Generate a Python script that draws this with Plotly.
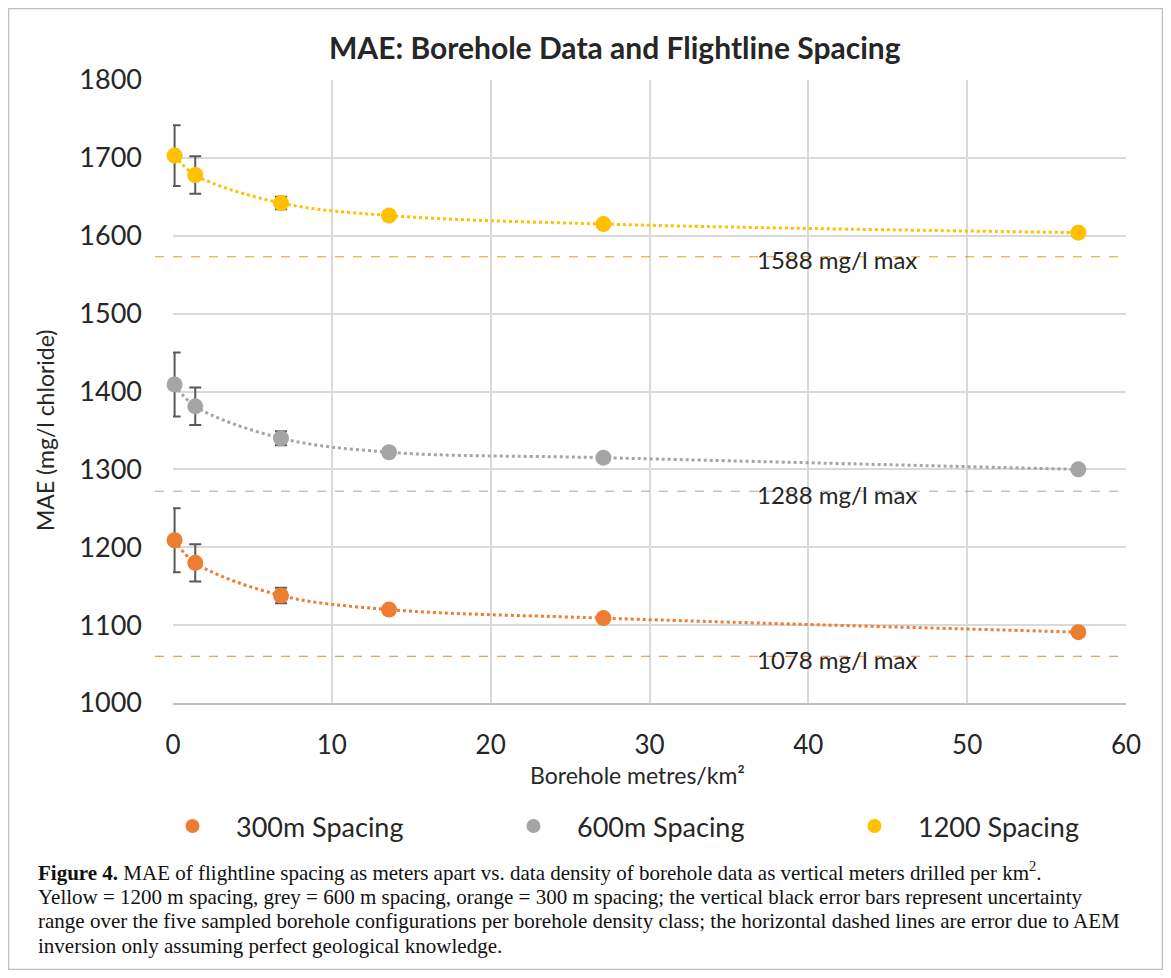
import plotly.graph_objects as go

# borehole metres per km2
density = [0.1, 1.4, 6.8, 13.6, 27.1, 57.0]

mae_300 = [1209, 1180, 1138, 1120, 1109, 1091]
mae_600 = [1409, 1381, 1340, 1322, 1315, 1300]
mae_1200 = [1703, 1678, 1642, 1626, 1615, 1604]

err_300 = [41, 24, 10, 0, 0, 0]
err_600 = [41, 24, 9, 0, 0, 0]
err_1200 = [39, 24, 8, 0, 0, 0]

series_names = ["300m Spacing", "600m Spacing", "1200 Spacing"]

# AEM inversion-only error lines (where they are drawn) and their labels
inv_line_y = [1060, 1272, 1573]
inv_labels = ["1078 mg/l max", "1288 mg/l max", "1588 mg/l max"]

caption_lines = [
    "<b>Figure 4.</b> MAE of flightline spacing as meters apart vs. data density of borehole data as "
    "vertical meters drilled per km<sup>2</sup>.",
    "Yellow = 1200 m spacing, grey = 600 m spacing, orange = 300 m spacing; the vertical black error bars "
    "represent uncertainty",
    "range over the five sampled borehole configurations per borehole density class; the horizontal "
    "dashed lines are error due to AEM",
    "inversion only assuming perfect geological knowledge.",
]

COLORS = ["#ED7D31", "#A5A5A5", "#FFC000"]
DASH_COLORS = ["#ED7D31", "#A5A5A5", "#D9A21B"]
FONT = "Lato, 'Open Sans', sans-serif"
SERIF = "'Liberation Serif', 'Times New Roman', serif"

# page body has an 8px margin, so figure pixels = screenshot pixels - 8
W, H = 1155, 962
L, R, T, B = 165, 1118, 72, 695


def px_x(p):
    return (p - L) / (R - L)


def px_y(p):
    return (B - p) / (B - T)


fig = go.Figure()

for name, ys, errs, col in zip(
    series_names, [mae_300, mae_600, mae_1200], [err_300, err_600, err_1200], COLORS
):
    fig.add_trace(
        go.Scatter(
            x=density, y=ys, mode="lines",
            line=dict(color=col, width=3, dash="dot", shape="spline", smoothing=1.0),
            showlegend=False, hoverinfo="skip",
        )
    )
    fig.add_trace(
        go.Scatter(
            x=density, y=ys, mode="markers", name=name, showlegend=False,
            marker=dict(color=col, size=16),
            error_y=dict(type="data", array=errs, color="#595959", thickness=2, width=6),
            cliponaxis=False,
        )
    )

# legend-only markers
for i, (name, col) in enumerate(zip(series_names, COLORS)):
    fig.add_trace(
        go.Scatter(
            x=[None], y=[None], mode="markers", name=name, marker=dict(color=col, size=14),
            legendwidth=249 if i < 2 else 170,
        )
    )

shapes = []
for yv, col in zip(inv_line_y, DASH_COLORS):
    shapes.append(
        dict(type="line", xref="paper", yref="y", x0=px_x(147), x1=px_x(1115), y0=yv, y1=yv,
             line=dict(color=col, width=1, dash="dash"), layer="above")
    )
# outer frame around chart and caption
shapes.append(
    dict(type="rect", xref="paper", yref="paper", x0=px_x(0.5), x1=px_x(1154.5), y0=px_y(961.5), y1=px_y(0.5),
         line=dict(color="#BFBFBF", width=1.5), layer="below")
)

annotations = []
for yv, lab in zip(inv_line_y, inv_labels):
    annotations.append(
        dict(x=41.8, y=yv, xref="x", yref="y", text=lab, showarrow=False, yshift=-3,
             font=dict(family=FONT, size=24, color="#262626"))
    )

annotations += [
    dict(x=px_x(607), y=px_y(39), xref="paper", yref="paper", xanchor="center", yanchor="middle",
         text="<b>MAE: Borehole Data and Flightline Spacing</b>",
         showarrow=False, font=dict(family=FONT, size=30, color="#262626")),
    dict(x=px_x(37), y=px_y(423), xref="paper", yref="paper", xanchor="center", yanchor="middle",
         text="MAE (mg/l chloride)", textangle=-90,
         showarrow=False, font=dict(family=FONT, size=23, color="#262626")),
    dict(x=px_x(629), y=px_y(767), xref="paper", yref="paper", xanchor="center", yanchor="middle",
         text="Borehole metres/km²",
         showarrow=False, font=dict(family=FONT, size=23, color="#262626")),
]
for k, line in enumerate(caption_lines):
    annotations.append(
        dict(x=px_x(28), y=px_y(864 + 24.5 * k), xref="paper", yref="paper", xanchor="left", yanchor="middle",
             align="left", showarrow=False, text=line, font=dict(family=SERIF, size=21, color="#111111"))
    )

fig.update_layout(
    width=W, height=H, autosize=False,
    margin=dict(l=L, r=W - R, t=T, b=H - B),
    paper_bgcolor="white", plot_bgcolor="white",
    font=dict(family=FONT, color="#262626"),
    shapes=shapes, annotations=annotations,
    showlegend=True,
    legend=dict(
        orientation="h", x=px_x(141), y=px_y(794), xanchor="left", yanchor="top",
        font=dict(family=FONT, size=27, color="#262626"), itemwidth=77,
    ),
)
fig.update_xaxes(
    range=[0, 60], tickvals=[0, 10, 20, 30, 40, 50, 60], showgrid=True, gridcolor="#D9D9D9", gridwidth=1.5,
    zeroline=False, showline=True, linecolor="#BFBFBF", linewidth=2, tickfont=dict(size=26),
    ticks="", ticklabelstandoff=18, fixedrange=True,
)
fig.update_yaxes(
    range=[1000, 1800], dtick=100, showgrid=True, gridcolor="#D9D9D9", gridwidth=1.5,
    zeroline=False, showline=False, tickfont=dict(size=27), ticks="", ticklabelstandoff=30, fixedrange=True,
)

fig.write_html("out.html")
